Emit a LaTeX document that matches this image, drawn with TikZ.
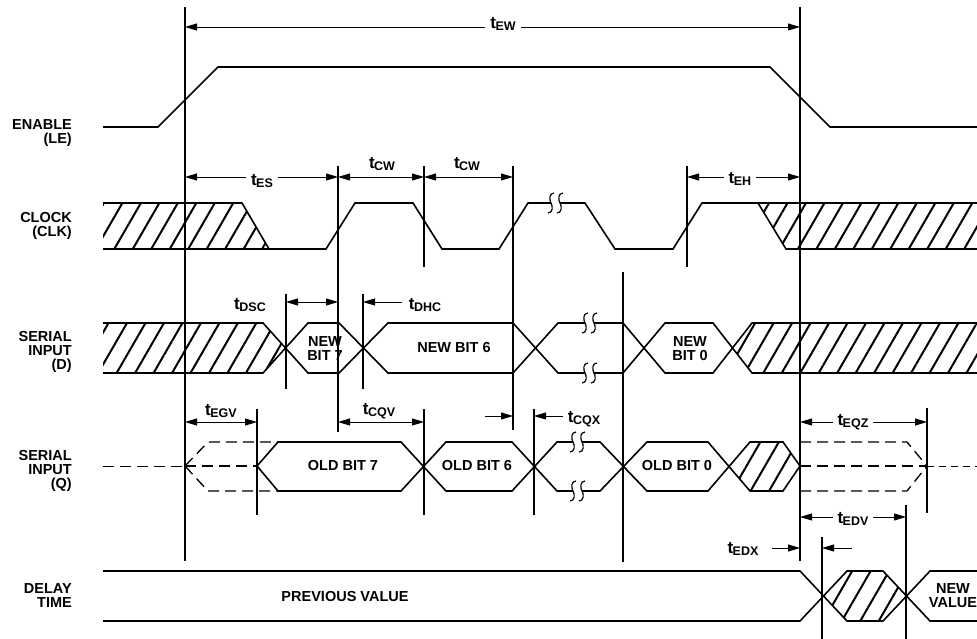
\documentclass[tikz,border=0pt]{standalone}
\usepackage{fontspec}
\setmainfont{Liberation Sans}
\usetikzlibrary{arrows.meta,patterns.meta}

\tikzset{
  wave/.style={line width=1.6pt},
  refline/.style={line width=1.2pt},
  dimarrow/.style={line width=0.9pt},
  ghost/.style={line width=1.3pt,dash pattern=on 11pt off 6pt},
  hatch/.style={pattern={Lines[angle=60,distance=16pt,line width=2pt]}},
  sig/.style={font=\bfseries\fontsize{14.5}{14}\selectfont,align=right,inner sep=0pt},
  tlab/.style={font=\bfseries\fontsize{17}{17}\selectfont,inner xsep=5pt,inner ysep=1pt}
}
% t with subscript
\newcommand\tm[1]{t\kern-.5pt\raisebox{-2.5pt}{\fontsize{12.5}{12.5}\selectfont#1}}
% break mark: two small S curves
\newcommand\sqg[2]{%
  \foreach \d in {0,9}
    \draw[wave,line width=1.2pt,shift={(#1+\d,#2)}] (3,-10) .. controls (-2,-10) and (-2,-3) .. (0,0)
      .. controls (2,3) and (2,10) .. (-3,10);}

\begin{document}
\begin{tikzpicture}[x=1pt,y=-1pt,>={Triangle[length=12pt,width=7pt]}]
\useasboundingbox (0,0) rectangle (977,639);

% row names
\node[sig,anchor=east] (en) at (72,133) {ENABLE\\(LE)};
\node[sig,anchor=east] (clk) at (72,226) {CLOCK\\(CLK)};
\node[sig,anchor=east] (din) at (72,352) {SERIAL\\INPUT\\(D)};
\node[sig,anchor=east] (qout) at (72,471) {SERIAL\\INPUT\\(Q)};
\node[sig,anchor=east] (dly) at (72,596) {DELAY\\TIME};

% reference lines
\foreach \x/\a/\b in {185/7/561, 800/7/561, 338/166/432, 424/166/267, 513/166/430,
    687/166/267, 286/294/389, 363/294/389, 623/272/562, 257/409/515, 424/409/515,
    534/409/515, 927/408/513, 906/505/639, 822/537/639}
  \draw[refline] (\x,\a) -- (\x,\b);

% enable
\draw[wave] (103,127) -- (158,127) -- (218,67) -- (770,67) -- (830,127) -- (977,127);

% clock
\fill[hatch] (103,203) -- (242,203) -- (269,249) -- (103,249) -- cycle;
\fill[hatch] (758,203) -- (977,203) -- (977,249) -- (786,249) -- cycle;
\draw[wave] (103,203) -- (242,203) -- (269,249);
\draw[wave] (103,249) -- (326,249) -- (355,203) -- (413,203) -- (442,249) -- (499,249)
  -- (528,203) -- (551,203);
\draw[wave] (560,203) -- (585,203) -- (615,249) -- (673,249) -- (702,203) -- (977,203);
\draw[wave] (758,203) -- (786,249) -- (977,249);
\sqg{551}{203}

% serial input D
\fill[hatch] (103,323) -- (263,323) -- (285.5,348) -- (263,373) -- (103,373) -- cycle;
\fill[hatch] (732.5,348) -- (752,323) -- (977,323) -- (977,373) -- (752,373) -- cycle;
\draw[wave] (103,323) -- (263,323) -- (308,373) -- (339,373) -- (388,323) -- (513,323)
  -- (558,373) -- (585,373);
\draw[wave] (103,373) -- (263,373) -- (308,323) -- (339,323) -- (388,373) -- (513,373)
  -- (558,323) -- (585,323);
\draw[wave] (594,373) -- (623,373) -- (665,323) -- (713,323) -- (752,373) -- (977,373);
\draw[wave] (594,323) -- (623,323) -- (665,373) -- (713,373) -- (752,323) -- (977,323);
\sqg{585}{323}
\sqg{585}{373}
\node[sig,align=center] (nb7) at (325,349) {NEW\\BIT 7};
\node[sig] (nb6) at (454,348) {NEW BIT 6};
\node[sig,align=center] (nb0) at (690,349) {NEW\\BIT 0};

% serial input Q
\draw[ghost,line width=1pt] (103,466) -- (185,466);
\draw[ghost] (185,466) -- (208,442) -- (278,442);
\draw[ghost] (185,466) -- (208,491) -- (278,491);
\draw[ghost] (185,466) -- (257,466);
\fill[hatch] (729,466) -- (750,442) -- (783,442) -- (800,466) -- (783,491) -- (750,491) -- cycle;
\draw[wave] (257,466) -- (278,442) -- (401,442) -- (446,491) -- (512,491) -- (557,442)
  -- (573,442);
\draw[wave] (257,466) -- (278,491) -- (401,491) -- (446,442) -- (512,442) -- (557,491)
  -- (573,491);
\draw[wave] (582,442) -- (600,442) -- (647,491) -- (708,491) -- (750,442) -- (783,442)
  -- (800,466);
\draw[wave] (582,491) -- (600,491) -- (647,442) -- (708,442) -- (750,491) -- (783,491)
  -- (800,466);
\sqg{573}{442}
\sqg{573}{491}
\draw[ghost] (800,442) -- (907,442) -- (927,466);
\draw[ghost] (800,491) -- (907,491) -- (927,466);
\draw[ghost] (800,466) -- (927,466);
\draw[ghost,line width=1pt,dash pattern=on 7pt off 5pt] (927,466) -- (977,466);
\node[sig] (ob7) at (343,466) {OLD BIT 7};
\node[sig] (ob6) at (477,466) {OLD BIT 6};
\node[sig] (ob0) at (677,466) {OLD BIT 0};

% delay time
\fill[hatch] (823.5,596) -- (847,571) -- (883,571) -- (906.5,596) -- (883,621) -- (847,621) -- cycle;
\draw[wave] (103,571) -- (800,571) -- (847,621) -- (883,621) -- (930,571) -- (977,571);
\draw[wave] (103,621) -- (800,621) -- (847,571) -- (883,571) -- (930,621) -- (977,621);
\node[sig] (prev) at (345,597) {PREVIOUS VALUE};
\node[sig,align=center] (newv) at (953,596) {NEW\\VALUE};

% timing arrows
\draw[dimarrow,<->] (185,27) -- (800,27);
\node[tlab,fill=white] (tew) at (503,24) {\tm{EW}};
\draw[dimarrow,<->] (185,177) -- (338,177);
\node[tlab,fill=white] (tes) at (262,181) {\tm{ES}};
\draw[dimarrow,<->] (338,177) -- (424,177);
\node[tlab] (tcw1) at (382,164) {\tm{CW}};
\draw[dimarrow,<->] (424,177) -- (513,177);
\node[tlab] (tcw2) at (467,164) {\tm{CW}};
\draw[dimarrow,<->] (687,177) -- (800,177);
\node[tlab,fill=white] (teh) at (740,179) {\tm{EH}};
\draw[dimarrow,<->] (286,302) -- (338,302);
\node[tlab] (tdsc) at (250,305) {\tm{DSC}};
\draw[dimarrow,->] (402,302) -- (363,302);
\node[tlab] (tdhc) at (425,305) {\tm{DHC}};
\draw[dimarrow,<->] (185,422) -- (257,422);
\node[tlab] (tegv) at (221,411) {\tm{EGV}};
\draw[dimarrow,<->] (338,422) -- (424,422);
\node[tlab] (tcqv) at (379,411) {\tm{CQV}};
\draw[dimarrow,->] (485,416) -- (513,416);
\draw[dimarrow,->] (563,416) -- (534,416);
\node[tlab] (tcqx) at (584,419) {\tm{CQX}};
\draw[dimarrow,<->] (800,422) -- (927,422);
\node[tlab,fill=white] (teqz) at (853,422) {\tm{EQZ}};
\draw[dimarrow,<->] (800,517) -- (906,517);
\node[tlab,fill=white] (tedv) at (853,519) {\tm{EDV}};
\draw[dimarrow,->] (772,548) -- (800,548);
\draw[dimarrow,->] (852,548) -- (822,548);
\node[tlab] (tedx) at (743,549) {\tm{EDX}};
\end{tikzpicture}
\end{document}
